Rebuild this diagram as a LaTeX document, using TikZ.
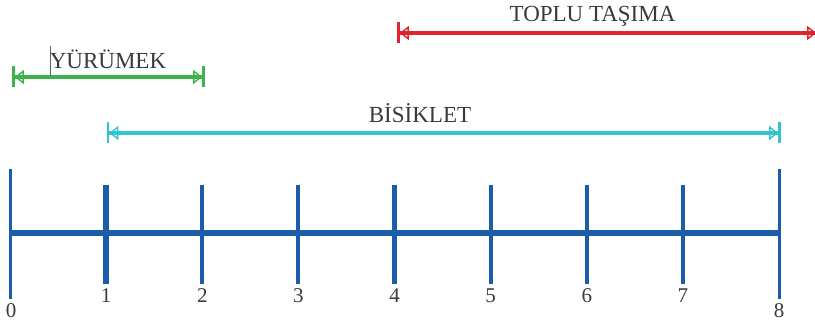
\documentclass[tikz,border=0pt]{standalone}
\usepackage{fontspec}
\setmainfont{Liberation Serif}
\usetikzlibrary{arrows.meta}
\definecolor{axisblue}{HTML}{1B5DA8}
\definecolor{walkgreen}{HTML}{3CB44B}
\definecolor{bikecyan}{HTML}{34C3D1}
\definecolor{busred}{HTML}{E1232B}
\definecolor{txtgray}{HTML}{3A3A3A}
\tikzset{
  rangearrow/.style={line width=3.3pt,
    arrows={{Bar[width=21pt,line width=2.8pt]Triangle[open,length=9pt,width=14pt,line width=1.4pt]}-{Triangle[open,length=9pt,width=14pt,line width=1.4pt]Bar[width=21pt,line width=2.8pt]}}},
  rangelabel/.style={anchor=base,inner sep=0pt,text=txtgray,font=\fontsize{23}{27}\selectfont},
  numlabel/.style={anchor=base,inner sep=0pt,text=txtgray,font=\fontsize{21}{24}\selectfont},
  endtick/.style={axisblue,line width=3pt},
  midtick/.style={axisblue,line width=4.2pt},
  axisline/.style={axisblue,line width=6pt},
}
\begin{document}
\begin{tikzpicture}[x=1pt,y=-1pt]
\useasboundingbox (0,0) rectangle (815,321);
% axis ticks
\foreach \i in {0,...,8} {
  \coordinate (t\i) at ({10+96.125*\i},233);
}
\draw[axisline] (t0) -- (t8);
\draw[endtick] ([yshift=-66pt]t0) -- ([yshift=64pt]t0);
\draw[endtick] ([yshift=-66pt]t8) -- ([yshift=64pt]t8);
\draw[midtick,line width=5.5pt] ([yshift=-51pt]t1) -- ([yshift=48pt]t1);
\foreach \i in {2,...,7} {
  \draw[midtick] ([yshift=-51pt]t\i) -- ([yshift=48pt]t\i);
}
% numbers
\node[numlabel] (n0) at (11,317) {0};
\node[numlabel] (n8) at (779,317) {8};
\foreach \i in {1,...,7} {
  \node[numlabel] (n\i) at ({10+96.125*\i},302) {\i};
}
% walking
\coordinate (wa) at (12,77);
\coordinate (wb) at (205,77);
\draw[rangearrow,walkgreen] (wa) -- (wb);
\node[rangelabel] (wl) at (108,69) {YÜRÜMEK};
\coordinate (cura) at (50,46);
\coordinate (curb) at (50,76);
\draw[txtgray!80,line width=1pt] (cura) -- (curb);
% bicycle
\coordinate (ba) at (106.5,133);
\coordinate (bb) at (781,133);
\draw[rangearrow,bikecyan] (ba) -- (bb);
\node[rangelabel] (bl) at (420,123) {BİSİKLET};
% public transport
\coordinate (ra) at (397,33);
\coordinate (rb) at (819,33);
\draw[rangearrow,busred] (ra) -- (rb);
\node[rangelabel] (rl) at (592.5,22) {TOPLU TAŞIMA};
\end{tikzpicture}
\end{document}
